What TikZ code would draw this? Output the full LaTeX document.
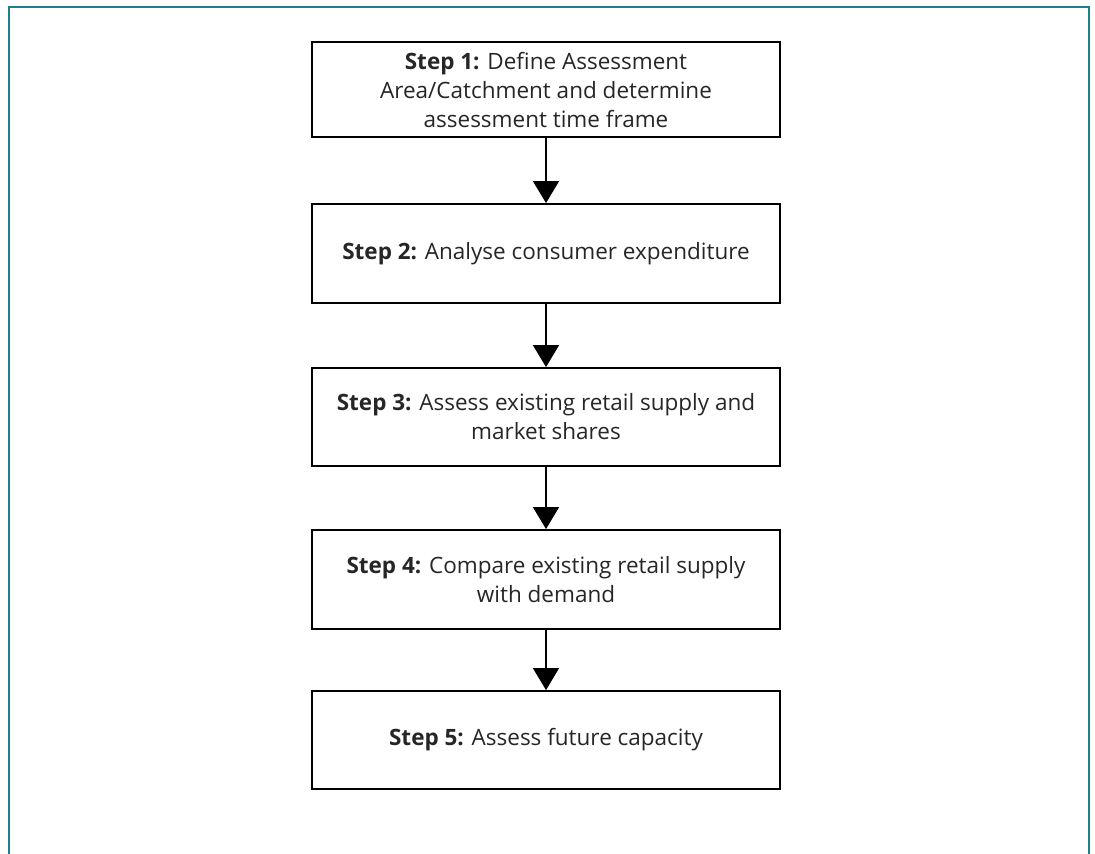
\documentclass[tikz,border=0pt]{standalone}
\usepackage{fontspec}
\setmainfont{Open Sans}
\usetikzlibrary{arrows.meta}
\definecolor{frameteal}{RGB}{28,128,138}
\begin{document}
\begin{tikzpicture}[x=1pt,y=-1pt,
  stepbox/.style={draw=black,line width=1.8pt,minimum width=468pt,inner sep=0pt,
    align=center,font=\fontsize{22.5}{29}\selectfont,text=black!85},
  flowarrow/.style={draw=black,line width=1.3pt,-{Triangle[width=26pt,length=22pt]}}]
\useasboundingbox (0,0) rectangle (1095,854);
\draw[frameteal,line width=2.2pt] (9,854) -- (9,7) -- (1089,7) -- (1089,854);
\node[stepbox,minimum height=95pt] (s1) at (546,89.5) {\textbf{Step 1:} Define Assessment\\Area/Catchment and determine\\assessment time frame};
\node[stepbox,minimum height=99pt] (s2) at (546,253.5) {\textbf{Step 2:} Analyse consumer expenditure};
\node[stepbox,minimum height=98pt] (s3) at (546,417) {\textbf{Step 3:} Assess existing retail supply and\\market shares};
\node[stepbox,minimum height=99pt] (s4) at (546,579.5) {\textbf{Step 4:} Compare existing retail supply\\with demand};
\node[stepbox,minimum height=98pt] (s5) at (546,740) {\textbf{Step 5:} Assess future capacity};
\draw[flowarrow] (s1) -- (s2);
\draw[flowarrow] (s2) -- (s3);
\draw[flowarrow] (s3) -- (s4);
\draw[flowarrow] (s4) -- (s5);
\end{tikzpicture}
\end{document}
